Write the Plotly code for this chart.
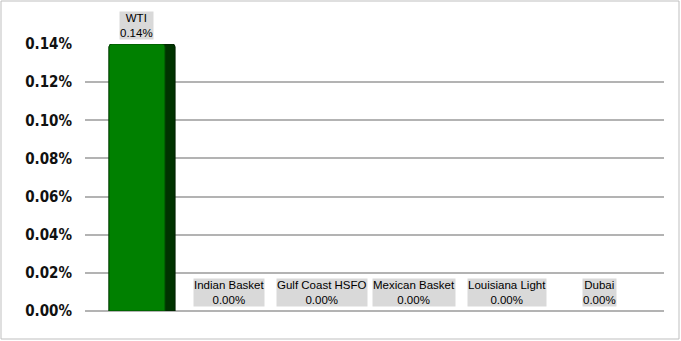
import plotly.graph_objects as go

categories = ["WTI", "Indian Basket", "Gulf Coast HSFO", "Mexican Basket", "Louisiana Light", "Dubai"]
values = [0.0014, 0.0, 0.0, 0.0, 0.0, 0.0]
y_ticks = [0.0, 0.0002, 0.0004, 0.0006, 0.0008, 0.0010, 0.0012, 0.0014]

W, H = 681, 341
ML, MR, MT, MB = 85, 17, 44, 30
plot_w = W - ML - MR
cat_px = 92.5
first_center_px = 51.5
x0 = -first_center_px / cat_px
x1 = x0 + plot_w / cat_px

xs = list(range(len(categories)))
line_w = [1 if v > 0 else 0 for v in values]

fig = go.Figure()
# dark side (3D depth look)
fig.add_trace(go.Bar(
    x=xs, y=values, width=0.714, offset=-0.297,
    marker=dict(color="#003300", line=dict(color="#002200", width=line_w), cornerradius=3),
    hoverinfo="skip", showlegend=False,
))
# front face
fig.add_trace(go.Bar(
    x=xs, y=values, width=0.605, offset=-0.297,
    marker=dict(color="#008000", line=dict(color="#004d00", width=line_w), cornerradius=3),
    hovertext=categories, showlegend=False,
))

annotations = []
for i, (c, v) in enumerate(zip(categories, values)):
    annotations.append(dict(
        x=i, y=v, xref="x", yref="y",
        text=f"{c}<br>{v:.2%}",
        showarrow=False, yanchor="bottom", yshift=4,
        bgcolor="#d9d9d9", borderpad=0,
        font=dict(family="Liberation Sans, Arial, sans-serif", size=11.5, color="#000000"),
        align="center",
    ))

fig.update_layout(
    width=W, height=H,
    margin=dict(l=ML, r=MR, t=MT, b=MB),
    paper_bgcolor="white", plot_bgcolor="white",
    barmode="overlay",
    annotations=annotations,
    xaxis=dict(range=[x0, x1], showticklabels=False, showgrid=False, zeroline=False,
               showline=False, ticks=""),
    yaxis=dict(range=[0, 0.0014], tickvals=y_ticks, tickformat=".2%",
               showgrid=True, gridcolor="#b3b3b3", gridwidth=1.5,
               zeroline=True, zerolinecolor="#b3b3b3", zerolinewidth=1.5,
               showline=False, ticks="", ticklabelstandoff=12,
               tickfont=dict(family="DejaVu Sans Condensed, DejaVu Sans, sans-serif", size=15,
                             color="#111111", weight="bold")),
    shapes=[dict(type="rect", xref="paper", yref="paper",
                 x0=(-ML + 1) / plot_w, x1=1 + (MR - 2) / plot_w,
                 y0=-(MB - 2) / (H - MT - MB), y1=1 + (MT - 1) / (H - MT - MB),
                 line=dict(color="#bfbfbf", width=1), layer="below")],
)

fig.write_html("out.html")
